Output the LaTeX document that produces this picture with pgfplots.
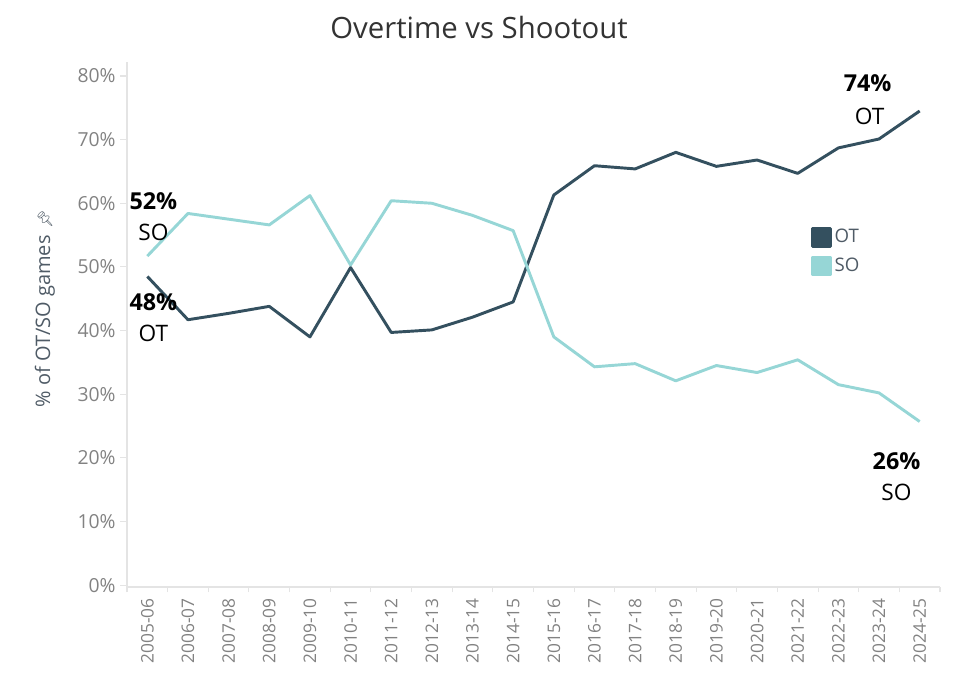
\documentclass[border=0pt]{standalone}
\usepackage{fontspec}
\setmainfont{Open Sans}
\newfontfamily\emoji{Noto Emoji}
\usepackage{pgfplots}
\pgfplotsset{compat=1.18}
\definecolor{otc}{HTML}{34505F}
\definecolor{soc}{HTML}{96D6D6}
\definecolor{tickc}{HTML}{828282}
\definecolor{axc}{HTML}{E4E4E4}
\definecolor{labc}{HTML}{4F5B66}
\definecolor{titc}{HTML}{333333}

\begin{document}
\begin{tikzpicture}
% page frame: 975 x 684 px at 0.75pt per px
\path (-95.25pt,-72.75pt) rectangle (636pt,440.25pt);
\begin{axis}[
    scale only axis,
    width=609.75pt, height=393.75pt,
    at={(0pt,0pt)}, anchor=south west,
    xmin=-0.5, xmax=19.5,
    ymin=-0.3, ymax=82.2,
    axis x line*=bottom, axis y line*=left,
    axis line style={axc, line width=0.8pt},
    tick align=outside,
    xtick={0,...,19},
    xticklabels={2005-06,2006-07,2007-08,2008-09,2009-10,2010-11,2011-12,2012-13,2013-14,2014-15,2015-16,2016-17,2017-18,2018-19,2019-20,2020-21,2021-22,2022-23,2023-24,2024-25},
    major x tick style={draw=none},
    minor xtick={-0.5,0.5,...,19.5},
    minor tick length=4pt,
    minor x tick style={axc, line width=0.8pt},
    x tick label style={rotate=90, anchor=east, font=\fontsize{13}{14}\selectfont, color=tickc},
    ytick={0,10,...,80},
    yticklabel={\pgfmathprintnumber{\tick}\%},
    major tick length=5pt,
    y tick style={axc, line width=0.8pt},
    y tick label style={font=\fontsize{14.5}{16}\selectfont, color=tickc},
    /pgf/number format/assume math mode=true,
    ylabel={\% of OT/SO games\hspace{5pt}{\emoji\fontsize{11}{12}\selectfont 📌}},
    ylabel style={at={(axis description cs:-0.101,0.53)}, anchor=center, font=\fontsize{15}{16}\selectfont, color=labc},
    title={Overtime vs Shootout},
    every axis title shift=0pt,
    title style={at={(axis description cs:0.433,1.044)}, anchor=base, font=\fontsize{22}{24}\selectfont, color=titc},
    legend style={at={(axis description cs:0.836,0.692)}, anchor=north west, draw=none, fill=none,
        font=\fontsize{14}{15}\selectfont, text=labc, row sep=6pt},
    legend cell align=left,
    legend image code/.code={\fill (0pt,-6.75pt) rectangle (13.5pt,6.75pt);},
    clip=false,
]
% OT share
\addplot[color=otc, line width=2.2pt, line join=round] coordinates {
    (0,48.5) (1,41.7) (2,42.7) (3,43.8) (4,39.0) (5,49.9) (6,39.7) (7,40.1) (8,42.1) (9,44.5)
    (10,61.3) (11,65.9) (12,65.4) (13,68.0) (14,65.8) (15,66.8) (16,64.7) (17,68.7) (18,70.1) (19,74.5)
};
\addlegendentry{OT}
% SO share
\addplot[color=soc, line width=2.2pt, line join=round] coordinates {
    (0,51.7) (1,58.4) (2,57.5) (3,56.6) (4,61.2) (5,50.3) (6,60.4) (7,60.0) (8,58.1) (9,55.7)
    (10,39.0) (11,34.3) (12,34.8) (13,32.1) (14,34.5) (15,33.4) (16,35.4) (17,31.5) (18,30.2) (19,25.7)
};
\addlegendentry{SO}

% end labels
\node[font=\bfseries\fontsize{17.5}{19}\selectfont] at (axis cs:0.15,60.4) {52\%};
\node[font=\fontsize{17}{19}\selectfont] at (axis cs:0.15,55.5) {SO};
\node[font=\bfseries\fontsize{17.5}{19}\selectfont] at (axis cs:0.15,44.5) {48\%};
\node[font=\fontsize{17}{19}\selectfont] at (axis cs:0.15,39.6) {OT};
\node[font=\bfseries\fontsize{17.5}{19}\selectfont] at (axis cs:17.72,78.8) {74\%};
\node[font=\fontsize{17}{19}\selectfont] at (axis cs:17.77,73.6) {OT};
\node[font=\bfseries\fontsize{17.5}{19}\selectfont] at (axis cs:18.43,19.5) {26\%};
\node[font=\fontsize{17}{19}\selectfont] at (axis cs:18.43,14.5) {SO};
\end{axis}
\end{tikzpicture}
\end{document}
